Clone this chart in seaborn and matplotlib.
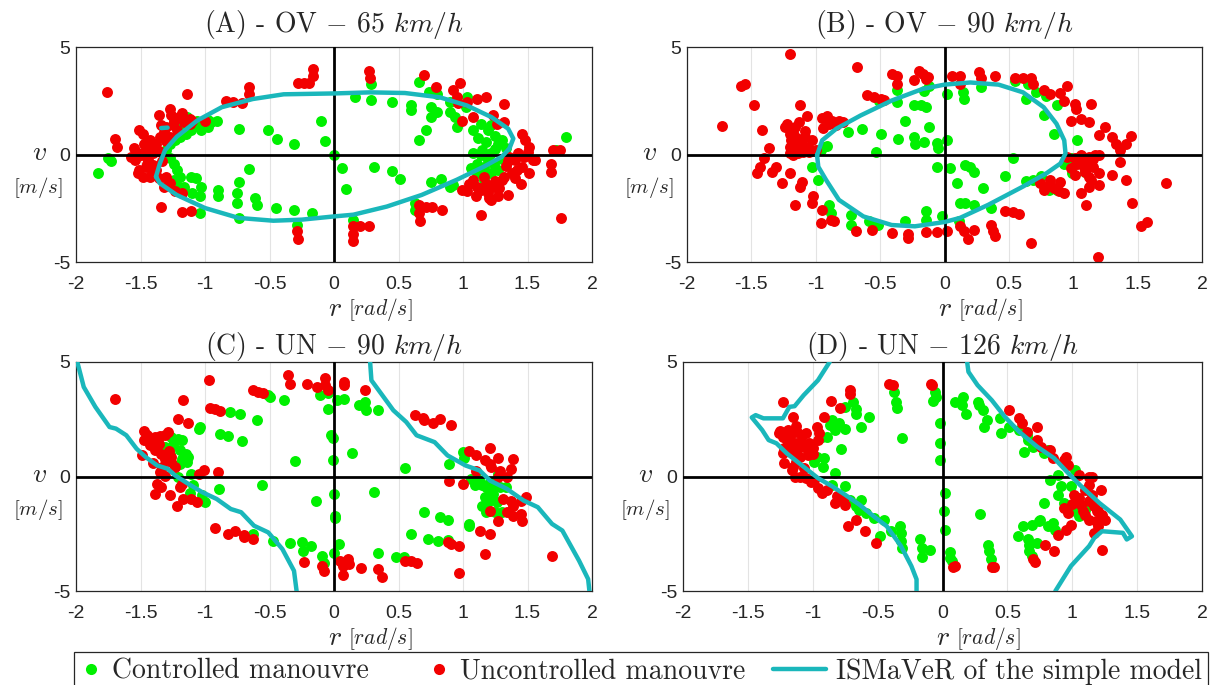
import pandas as pd
import matplotlib
matplotlib.use("Agg")
import matplotlib.pyplot as plt
from matplotlib.lines import Line2D
from matplotlib.legend_handler import HandlerLine2D
import seaborn as sns

# ------------------------------------------------------------------
# data: (r [rad/s], v [m/s])
# ------------------------------------------------------------------

# (A) OV 65 km/h
ov65_ctrl = [
    (-1.83, -0.88), (-1.75, -0.18), (-1.73, -0.29), (-1.30, 0.20), (-1.27, 0.51), (-1.23, 0.66),
    (-1.19, 0.82), (-1.15, 0.97), (-1.11, 1.12), (-1.07, 1.35), (-1.16, 1.43), (-1.14, 1.74),
    (-1.20, 1.51), (-1.06, 1.58), (-0.98, 1.62), (-0.95, 1.51), (-0.91, 1.54), (-0.98, 1.28),
    (-1.03, 1.12), (-1.27, -0.18), (-1.24, -0.42), (-1.22, -0.72), (-1.19, -1.03), (-1.24, -1.18),
    (-1.20, -1.49), (-1.16, -1.49), (-1.11, -1.03), (-1.07, -1.11), (-1.10, -1.80), (-1.03, -1.49),
    (-1.04, -1.95), (-1.04, -2.72), (-0.90, -1.65), (-0.90, -1.95), (-0.74, -1.26), (-0.75, -1.80),
    (-0.75, -2.26), (-0.74, -2.95), (-0.66, -0.69), (-0.61, -2.03), (-0.60, -2.34), (-0.45, -2.49),
    (-0.31, -2.57), (-0.29, -3.26), (-0.17, -2.72), (-0.74, 1.20), (-0.51, 1.12), (-0.44, 0.72),
    (-0.31, 0.51), (-0.10, 1.54), (-0.07, 0.63), (0.00, -0.03), (0.06, -0.62), (0.09, -1.60),
    (0.16, 2.66), (0.29, 2.54), (0.31, -0.57), (0.45, 2.43), (0.45, -0.77), (0.51, -1.12),
    (0.60, 2.28), (0.60, 2.05), (0.66, 0.69), (0.71, 1.15), (0.75, 2.20), (0.75, 1.74),
    (0.80, 1.97), (0.66, 3.35), (0.74, 2.89), (0.80, 2.82), (0.90, 2.46), (0.90, 1.97),
    (0.94, 1.74), (0.95, 1.28), (1.02, 2.20), (1.03, 2.66), (0.75, -1.26), (0.83, -1.15),
    (0.90, -1.49), (0.92, -1.42), (0.63, -2.26), (0.63, -2.57), (0.15, -3.03), (0.29, 3.28),
    (1.08, 0.05), (1.14, -0.03), (1.19, -0.26), (1.22, 0.05), (1.24, -0.42), (1.27, -0.72),
    (1.16, -0.57), (1.11, -0.42), (1.22, -0.88), (1.27, 0.51), (1.30, 0.66), (1.19, 1.12),
    (1.22, 1.35), (1.14, 1.43), (1.08, 1.12), (1.06, -0.65), (1.11, -0.88), (1.16, -1.18),
    (1.80, 0.82), (1.72, 0.20), (1.15, 0.20), (1.25, 0.25), (1.20, -0.05), (1.30, -0.20),
    (1.33, 0.30), (1.18, 0.60), (1.25, 0.85), (1.12, 0.75),
]
ov65_unctrl = [
    (-1.76, 2.89), (-1.70, 0.74), (-1.68, 0.35), (-1.55, 0.28), (-1.51, 1.12), (-1.52, -0.88),
    (-1.48, -1.03), (-1.36, 1.82), (-1.34, -2.42), (-1.32, -1.49), (-1.27, 2.12), (-1.26, 1.82),
    (-1.18, -2.69), (-1.11, -2.65), (-1.14, 2.82), (-1.10, 1.58), (-1.00, 1.58), (-0.84, 2.51),
    (-0.78, 2.43), (-0.71, 2.38), (-0.66, 3.12), (-0.66, 2.82), (-0.28, 3.31), (-0.23, 3.31),
    (-0.19, 3.31), (-0.16, 3.97), (-0.16, 3.66), (-0.29, -3.57), (-0.28, -3.92), (0.15, -3.34),
    (0.20, -3.34), (0.27, -3.34), (0.15, -3.72), (0.15, -4.03), (0.27, 3.89), (0.28, 3.58),
    (0.70, 3.69), (0.79, 3.15), (0.92, 3.00), (0.98, 3.31), (0.95, 2.69), (0.96, 2.38),
    (1.11, 2.58), (1.18, 2.66), (1.03, 2.43), (1.32, 2.35), (1.23, 1.82), (1.26, 1.43),
    (1.32, 1.51), (0.99, 1.58), (1.08, 1.74), (0.66, -2.34), (0.71, -2.42), (0.76, -2.42),
    (0.66, -2.72), (0.67, -3.11), (0.84, -2.57), (1.14, -2.80), (1.35, -1.88), (1.76, -2.95),
    (1.70, 0.20), (1.75, 0.20), (1.68, -0.42), (1.68, -0.80), (1.46, 0.97), (1.48, 0.66),
    (1.51, 0.35), (1.43, 0.05), (1.40, -0.26), (1.46, -0.57), (1.51, -0.88), (1.54, -0.26),
    (1.38, -0.88), (1.30, -1.18), (1.24, -1.49), (1.19, -1.80), (1.14, -1.65), (1.08, -1.18),
    (1.11, -1.49), (1.03, -1.72), (0.99, -1.65), (1.27, -1.95), (1.22, -2.11), (1.16, -1.03),
    (1.32, -1.03), (1.42, -0.72), (1.47, -0.11), (1.56, -0.26), (-1.50, -0.03), (-1.46, 0.20),
    (-1.44, -0.26), (-1.40, 0.05), (-1.43, 0.66), (-1.48, 0.97), (-1.38, 0.51), (-1.35, 0.82),
    (-1.32, 1.05), (-1.46, -0.57), (-1.40, -0.49), (-1.51, -0.72), (-1.54, -0.26), (-1.38, -0.72),
    (-1.43, -1.03), (-1.47, 0.51), (-1.34, 1.35), (-1.30, 1.28), (-1.24, 1.58), (-1.20, 1.74),
    (-1.16, 1.51), (-1.12, 1.43), (-1.22, 1.12), (-1.27, 0.82), (-1.30, -1.03), (-1.27, -1.34),
    (-1.23, -1.72), (-1.18, -1.80), (-1.42, 0.35), (-1.36, 0.15), (-1.45, -0.45), (-1.33, -0.30),
    (-1.41, -0.85), (-1.36, -1.10), (-1.30, 0.62), (-1.25, 1.35), (-1.18, 1.95), (-1.12, 1.65),
    (-1.52, 0.05), (-1.57, -0.10), (1.35, -0.30), (1.33, -0.55), (1.40, -1.10), (1.45, -1.35),
    (1.25, -1.25), (1.18, -1.35), (1.28, -1.55), (1.36, -0.10), (1.50, 0.10), (1.20, -2.00),
    (1.10, -1.95), (1.05, -1.35),
]
ov65_ismaver = [
    (-1.38, -1.03), (-1.35, -0.42), (-1.31, 0.20), (-1.22, 0.82), (-1.06, 1.58), (-0.87, 2.20),
    (-0.63, 2.58), (-0.39, 2.80), (0.00, 2.84), (0.28, 2.89), (0.55, 2.86), (0.82, 2.66),
    (1.03, 2.28), (1.22, 1.74), (1.35, 1.20), (1.39, 0.74), (1.36, 0.28), (1.30, -0.11),
    (1.16, -0.57), (0.95, -1.18), (0.68, -1.88), (0.41, -2.42), (0.15, -2.80), (0.00, -2.88),
    (-0.25, -3.03), (-0.47, -3.08), (-0.74, -2.95), (-1.00, -2.49), (-1.22, -1.88), (-1.35, -1.34),
    (-1.38, -1.03),
]
ov65_ismaver_stub = [(-1.34, 1.23), (-1.29, 1.25)]

# (B) OV 90 km/h
ov90_ctrl = [
    (-0.96, 0.20), (-0.94, 0.35), (-0.91, 0.38), (-1.03, -0.57), (-0.98, -1.18), (-0.90, -2.34),
    (-0.88, -2.72), (-0.73, -2.80), (-0.73, -3.26), (-0.59, -3.11), (-0.52, -3.26), (-0.31, -3.11),
    (-0.14, -2.65), (-0.14, -3.03), (-0.02, -2.88), (0.11, -3.11), (0.12, -2.26), (0.16, -2.26),
    (0.23, -2.34), (-0.06, -0.57), (0.04, -0.65), (0.10, -1.34), (0.16, -0.49), (0.20, -0.57),
    (0.23, -0.83), (0.30, -1.57), (0.36, -2.49), (0.47, -1.00), (0.53, -0.14), (0.63, -1.22),
    (0.69, -1.18), (0.75, -1.00), (0.81, -1.65), (0.87, -1.65), (0.93, -0.42), (0.99, -0.88),
    (1.09, -0.80), (0.98, -0.18), (1.03, 0.66), (0.85, 0.97), (0.77, 1.82), (0.79, 2.74),
    (0.87, 2.28), (0.63, 2.58), (0.65, 3.28), (0.71, 2.89), (0.55, 3.43), (0.28, 3.12),
    (0.15, 2.58), (0.14, 2.89), (0.02, 2.82), (-0.12, 3.20), (-0.16, 2.97), (-0.37, 3.00),
    (-0.31, 1.54), (-0.36, 0.71), (-0.24, 0.82), (-0.23, 0.51), (-0.16, 0.58), (-0.06, 0.54),
    (-0.05, 0.28), (0.02, 0.66), (-0.12, 1.28), (-0.18, 2.28), (-0.24, 2.28), (-0.14, 2.20),
    (-0.37, 2.43), (-0.49, 0.97), (-0.53, 0.12), (-0.64, 1.20), (-0.75, 1.05), (-0.51, 2.51),
]
ov90_unctrl = [
    (-1.20, 4.69), (-0.68, 4.08), (-1.58, 3.17), (-1.55, 3.28), (-1.48, 2.28), (-1.73, 1.31),
    (-1.42, 1.15), (-1.36, 0.32), (-1.40, -0.18), (-1.43, -0.57), (-1.46, -0.88), (-1.34, -0.80),
    (-1.31, -0.57), (-1.26, -1.34), (-1.20, -0.88), (-1.16, -2.34), (-1.12, -1.49), (-1.11, -1.26),
    (-1.03, -2.26), (-1.02, -1.95), (-0.96, -3.18), (-0.95, -2.57), (-0.88, -3.03), (-0.86, -3.11),
    (-1.12, 2.32), (-1.07, 1.77), (-1.22, 1.43), (-1.20, 0.97), (-1.19, 0.66), (-1.16, 0.35),
    (-1.14, 0.05), (-1.11, 0.51), (-1.08, 0.82), (-1.06, 0.35), (-1.03, 0.66), (-1.00, 0.20),
    (-1.13, 1.51), (-1.16, 1.28), (-1.20, 0.05), (-1.24, 1.28), (-1.18, -0.03), (-1.10, 0.12),
    (-0.95, 1.71), (-0.91, 1.77), (-0.87, 1.58), (-0.84, 1.35), (-0.90, 1.43), (-0.94, 1.25),
    (-0.82, 1.58), (-0.79, 1.51), (-0.60, 2.78), (-0.55, 2.69), (-0.49, 2.58), (-0.47, 2.54),
    (-0.41, 3.74), (-0.37, 3.66), (-0.37, 3.28), (-0.20, 3.89), (-0.17, 3.74), (-0.14, 3.51),
    (-0.24, 3.46), (-0.13, 3.62), (0.06, 3.66), (0.12, 3.66), (0.12, 3.28), (0.27, 3.82),
    (0.28, 3.58), (0.39, 3.66), (0.55, 3.55), (0.61, 3.55), (0.67, 3.58), (0.69, 3.28),
    (0.77, 3.00), (0.82, 2.82), (0.90, 2.85), (0.95, 3.20), (0.93, 2.51), (1.01, 2.35),
    (1.02, 2.12), (0.98, 1.58), (1.06, 1.66), (1.12, 1.51), (1.14, 2.35), (1.20, 0.89),
    (1.25, 1.28), (1.30, 0.82), (1.33, 0.51), (1.36, 0.20), (1.41, 0.51), (1.45, 0.85),
    (1.36, -0.34), (0.95, -0.11), (1.01, -0.18), (1.06, -0.03), (1.12, -0.11), (1.17, -0.03),
    (1.20, -0.03), (1.09, -0.42), (1.03, -0.42), (0.98, -0.65), (1.01, -0.95), (1.09, -0.80),
    (1.12, -1.03), (1.14, -1.18), (1.20, -0.88), (1.20, -1.42), (1.12, -1.49), (1.06, -1.80),
    (1.10, -2.34), (1.30, -0.95), (1.41, -1.18), (1.46, -2.26), (1.53, -3.34), (1.57, -3.15),
    (1.72, -1.34), (1.19, -4.75), (0.67, -4.11), (0.74, -1.34), (0.79, -1.49), (0.85, -1.57),
    (0.89, -1.72), (0.93, -1.80), (0.77, -1.65), (0.82, -1.18), (0.90, -1.26), (0.47, -2.65),
    (0.53, -2.69), (0.58, -2.75), (0.36, -3.26), (0.38, -3.57), (0.39, -3.77), (0.23, -3.49),
    (0.18, -3.95), (0.15, -3.57), (0.12, -3.34), (0.02, -3.57), (-0.06, -3.62), (-0.14, -3.62),
    (-0.28, -3.72), (-0.28, -3.88), (-0.41, -3.65), (-0.56, -3.52), (-0.69, -3.54),
    (-1.15, 0.15), (-1.10, 0.30), (-1.05, 0.10), (-1.13, 0.70), (-1.20, 0.35), (-1.17, 0.90),
    (-1.08, 1.10), (1.05, -0.10), (1.15, -0.20), (1.02, -0.25), (1.08, -0.60), (1.15, -0.60),
]
ov90_ismaver = [
    (-0.99, -0.03), (-0.95, 0.66), (-0.84, 1.20), (-0.65, 1.82), (-0.41, 2.51), (-0.17, 3.05),
    (0.00, 3.25), (0.20, 3.35), (0.42, 3.25), (0.61, 2.89), (0.77, 2.20), (0.87, 1.43),
    (0.93, 0.66), (0.94, 0.05), (0.90, -0.42), (0.79, -0.88), (0.61, -1.49), (0.34, -2.34),
    (0.12, -2.95), (0.00, -3.14), (-0.23, -3.34), (-0.41, -3.28), (-0.63, -2.88), (-0.82, -2.11),
    (-0.92, -1.18), (-0.98, -0.57), (-0.99, -0.03),
]

# (C) UN 90 km/h
un90_ctrl = [
    (-0.81, 2.82), (-0.73, 2.72), (-0.60, 2.48), (-1.04, 2.16), (-1.05, 2.09), (-0.88, 1.84),
    (-0.82, 1.75), (-0.71, 1.55), (-0.39, 3.36), (-0.51, 3.55), (-0.50, 3.47), (-0.11, 3.55),
    (-0.05, 3.65), (-0.05, 2.93), (0.02, 3.36), (0.08, 3.40), (0.19, 3.11), (0.24, 3.26),
    (0.25, 2.89), (0.34, 2.92), (-0.02, 1.80), (-0.01, 1.69), (-0.01, 0.73), (0.14, 1.04),
    (-0.30, 0.66), (-0.56, -0.36), (-0.89, -0.54), (-1.12, -0.73), (-1.02, -0.80), (-1.00, -1.12),
    (-0.14, -1.08), (0.00, -0.76), (0.01, -1.71), (0.01, -1.81), (0.31, -0.66), (0.55, 0.36),
    (0.70, -1.56), (0.82, -1.78), (0.88, -1.90), (1.05, -2.07), (1.05, -2.15), (0.60, -2.51),
    (0.73, -2.73), (0.81, -2.83), (0.88, -2.77), (-0.63, -2.51), (-0.47, -2.80), (-0.34, -2.91),
    (-0.25, -2.88), (-0.24, -3.24), (-0.18, -3.02), (-0.09, -3.46), (-0.08, -3.78), (0.04, -2.95),
    (0.00, -3.36), (0.34, -3.36), (0.48, -3.50), (0.54, -3.53), (1.00, 1.09), (1.01, 0.80),
    (0.89, 0.53), (-1.26, 1.72), (-1.21, 1.65), (-1.18, 1.58), (-1.25, 1.36), (-1.19, 1.14),
    (-1.15, 0.99), (-1.18, 0.77), (-1.14, 0.63), (-1.19, 0.55), (-1.23, 0.48), (-1.13, 0.85),
    (-1.21, -0.03), (-1.11, 0.12), (-1.09, -0.39), (-1.31, 1.28), (-1.27, 0.99), (-1.33, 1.07),
    (1.10, -0.03), (1.13, -0.25), (1.15, -0.39), (1.18, -0.47), (1.21, -0.61), (1.23, -0.76),
    (1.25, -0.32), (1.29, -0.47), (1.17, -0.91), (1.19, -1.12), (1.22, -0.98), (1.26, -1.12),
    (1.15, -1.27), (1.18, -1.56), (1.25, -1.56), (1.30, -1.56), (1.21, -0.25), (1.27, 0.12),
    (1.33, -0.47), (1.09, -0.39), (1.06, -0.10),
]
un90_unctrl = [
    (-1.70, 3.40), (-1.17, 3.36), (-0.97, 4.20), (-1.21, 2.51), (-1.13, 2.34), (-0.96, 3.01),
    (-0.92, 2.93), (-0.88, 2.86), (-0.63, 3.77), (-0.59, 3.69), (-0.55, 3.65), (-0.36, 4.42),
    (-0.34, 4.06), (-0.21, 4.03), (-0.13, 3.91), (-0.07, 4.28), (-0.07, 3.99), (-0.05, 3.77),
    (0.08, 4.13), (0.08, 3.99), (0.24, 3.77), (-1.47, 1.97), (-1.45, 1.80), (-1.39, 1.72),
    (-1.35, 1.75), (-1.31, 1.80), (-1.29, 1.94), (-1.47, 1.58), (-1.43, 1.36), (-1.39, 1.14),
    (-1.49, 0.92), (-1.34, 0.99), (-1.31, 0.77), (-1.29, 0.77), (-1.26, 0.63), (-1.35, 0.19),
    (-1.31, 0.04), (-1.37, -0.32), (-1.34, -0.47), (-1.39, -0.76), (-1.27, -0.80), (-1.22, -1.27),
    (-1.19, -0.47), (-1.18, -0.32), (-1.17, -0.98), (-1.11, -0.98), (-1.06, -1.12), (-1.01, 0.29),
    (-1.05, 0.12), (-0.90, 0.19), (-1.23, 0.41), (-1.26, 0.85), (-0.92, -2.26), (-0.82, -2.51),
    (-0.77, -2.39), (-0.70, -2.54), (-0.70, -2.66), (-0.63, -2.73), (-0.23, -3.75), (-0.09, -3.90),
    (-0.08, -4.12), (0.05, -3.68), (0.07, -3.90), (0.07, -4.31), (0.11, -3.61), (0.12, -3.82),
    (0.21, -4.01), (0.34, -4.04), (0.37, -4.41), (0.55, -3.68), (0.60, -3.71), (0.64, -3.78),
    (0.97, -4.22), (0.63, 2.67), (0.69, 2.57), (0.70, 2.45), (0.77, 2.34), (0.82, 2.53),
    (0.91, 2.26), (1.05, 1.11), (1.10, 0.92), (1.21, 1.26), (1.17, 0.70), (1.21, 0.55),
    (1.22, 0.41), (1.27, 0.82), (1.29, 0.26), (1.39, 0.77), (1.37, 0.34), (1.34, -0.03),
    (1.27, -0.03), (0.89, -0.18), (1.00, -0.32), (1.10, 0.26), (1.31, -0.98), (1.37, -1.05),
    (1.39, -1.27), (1.45, -1.05), (1.49, -0.91), (1.34, -1.56), (1.39, -1.71), (1.45, -1.64),
    (1.46, -1.93), (1.27, -1.93), (1.21, -1.49), (1.13, -2.36), (1.21, -2.51), (1.17, -3.39),
    (1.69, -3.46), (0.88, -2.88), (0.91, -2.95), (0.97, -3.02), (-1.42, 1.55), (-1.36, 1.40),
    (-1.40, 0.60), (-1.33, 0.40), (-1.28, 1.10),
]
un90_ismaver_left = [
    (-1.99, 5.00), (-1.96, 4.35), (-1.94, 3.91), (-1.85, 3.04), (-1.74, 2.16), (-1.69, 2.09),
    (-1.61, 1.80), (-1.53, 1.21), (-1.46, 0.85), (-1.37, 0.48), (-1.29, 0.34), (-1.23, 0.04),
    (-1.13, -0.32), (-1.02, -0.69), (-0.91, -0.98), (-0.80, -1.42), (-0.72, -1.56), (-0.62, -2.15),
    (-0.51, -2.44), (-0.40, -3.17), (-0.31, -4.12), (-0.29, -5.00),
]
un90_ismaver_right = [
    (0.28, 5.00), (0.29, 4.20), (0.46, 2.89), (0.56, 2.38), (0.64, 1.80), (0.78, 1.50),
    (0.88, 0.92), (1.02, 0.48), (1.13, 0.26), (1.21, -0.18), (1.34, -0.54), (1.47, -1.05),
    (1.58, -1.34), (1.69, -2.07), (1.77, -2.36), (1.90, -3.68), (1.97, -4.48), (1.98, -5.00),
]

# (D) UN 126 km/h
un126_ctrl = [
    (0.16, 3.48), (0.15, 3.12), (0.10, 3.26), (0.18, 2.75), (0.27, 3.26), (0.28, 3.12),
    (0.31, 2.90), (0.34, 2.46), (0.32, 2.17), (0.44, 2.54), (0.45, 1.88), (0.51, 2.14),
    (0.59, 2.03), (0.65, 1.81), (0.66, 1.59), (0.63, 1.09), (0.70, 1.30), (0.78, 1.01),
    (0.81, 1.16), (0.83, -0.14), (0.89, 0.07), (0.91, -0.43), (0.89, -0.80), (0.99, -0.43),
    (1.02, 0.29), (0.94, -1.16), (1.02, -1.52), (1.05, -1.74), (1.10, -1.45), (0.78, -1.16),
    (0.75, -1.88), (0.81, -2.17), (0.85, -2.03), (0.87, -2.32), (0.69, -2.10), (0.74, -1.96),
    (0.62, -2.17), (0.58, -2.61), (0.66, -2.75), (0.67, -2.97), (0.67, -3.26), (0.73, -2.90),
    (0.69, -3.48), (0.35, -3.01), (0.36, -3.26), (0.37, -3.62), (0.29, -1.64), (0.02, -0.72),
    (0.01, -1.52), (0.02, -2.35), (0.06, -3.30), (0.06, -3.55), (0.07, -3.70), (-0.02, 2.35),
    (-0.02, 1.48), (-0.02, 0.72), (-0.06, 3.70), (-0.05, 3.48), (-0.07, 3.30), (-0.37, 3.70),
    (-0.36, 3.26), (-0.35, 3.01), (-0.31, 1.67), (-0.57, 2.61), (-0.63, 2.17), (-0.67, 2.93),
    (-0.69, 3.26), (-0.67, 2.75), (-0.75, 3.04), (-0.80, 2.32), (-0.83, 2.03), (-0.75, 2.06),
    (-0.85, 2.46), (-0.89, 1.74), (-0.87, 2.25), (-0.99, 0.65), (-0.97, 0.87), (-0.92, 0.43),
    (-0.91, 0.80), (-0.83, 0.14), (-0.78, 1.19), (-0.93, 1.74), (-0.71, -1.04), (-0.67, -1.30),
    (-0.63, -1.04), (-0.59, -1.59), (-0.53, -1.81), (-0.45, -1.88), (-0.40, -2.39), (-0.33, -2.17),
    (-0.32, -2.46), (-0.32, -2.83), (-0.31, -3.12), (-0.17, -2.75), (-0.16, -3.12), (-0.10, -3.22),
    (-0.16, -3.52), (-0.48, -2.61), (-0.75, -0.43), (-0.85, -0.36), (-0.64, -1.45),
]
un126_unctrl = [
    (-1.23, 3.26), (-1.15, 2.58), (-0.91, 2.58), (-0.86, 3.30), (-0.79, 3.01), (-0.71, 3.77),
    (-0.71, 3.59), (-0.41, 4.03), (-0.38, 3.99), (-0.09, 4.03), (-0.08, 3.99), (-1.26, 1.88),
    (-1.23, 1.74), (-1.19, 2.03), (-1.16, 1.88), (-1.12, 1.96), (-1.08, 1.81), (-1.05, 1.88),
    (-1.20, 1.59), (-1.18, 1.38), (-1.14, 1.45), (-1.11, 1.23), (-1.07, 1.30), (-1.03, 1.45),
    (-1.00, 1.23), (-0.96, 1.59), (-0.95, 1.88), (-0.97, 2.17), (-1.23, 1.01), (-1.16, 1.01),
    (-1.10, 0.87), (-1.04, 0.94), (-1.22, 0.58), (-1.15, 0.43), (-1.14, 0.00), (-1.16, 0.29),
    (-1.10, 0.00), (-1.01, -0.22), (-0.99, -0.14), (-0.96, -0.51), (-0.93, -0.72), (-0.89, -0.58),
    (-0.83, -1.16), (-0.77, -1.01), (-0.75, -1.23), (-0.73, -2.17), (-0.67, -1.88), (-0.60, -2.39),
    (-0.51, -2.90), (-0.81, -0.87), (0.51, 2.90), (0.59, 2.54), (0.61, 2.32), (0.65, 1.96),
    (0.73, 2.17), (0.73, 1.59), (0.76, 1.30), (0.83, 1.16), (0.85, 0.80), (0.94, 0.72),
    (0.95, 0.87), (0.97, 0.51), (1.05, 0.07), (1.13, 0.00), (1.15, 0.00), (1.13, -0.36),
    (1.22, -0.58), (1.01, -0.80), (1.05, -0.94), (1.07, -1.23), (1.13, -1.09), (1.17, -1.30),
    (1.19, -1.52), (1.23, -1.67), (1.25, -1.88), (1.13, -1.88), (1.18, -1.96), (0.97, -1.59),
    (0.94, -1.38), (0.99, -2.10), (0.95, -2.32), (0.89, -2.54), (1.17, -2.46), (1.23, -3.23),
    (0.79, -2.97), (0.86, -3.26), (0.71, -3.74), (0.70, -3.62), (0.08, -3.94), (0.10, -3.91),
    (0.38, -3.96), (0.40, -3.96), (-1.22, 1.25), (-1.18, 1.70), (-1.09, 1.55), (-1.13, 0.65),
    (-1.07, 0.35), (-1.05, -0.05), (-1.13, 2.20), (-1.25, 2.00), (-1.00, 1.00), (1.08, -1.50),
    (1.10, -1.70), (1.20, -1.50), (1.15, -0.80), (1.10, -0.60), (1.20, -2.15), (1.00, -1.20),
]
un126_ismaver_left = [
    (-0.87, 5.00), (-0.96, 4.20), (-1.07, 3.55), (-1.14, 3.07), (-1.18, 3.04), (-1.23, 2.54),
    (-1.38, 2.54), (-1.44, 2.68), (-1.47, 2.58), (-1.39, 2.03), (-1.34, 1.59), (-1.28, 1.45),
    (-1.20, 1.01), (-1.12, 0.65), (-1.04, 0.29), (-0.96, -0.07), (-0.85, -0.43), (-0.75, -0.80),
    (-0.64, -1.23), (-0.53, -1.74), (-0.43, -2.17), (-0.32, -3.04), (-0.24, -3.91), (-0.20, -4.49),
    (-0.20, -5.00),
]
un126_ismaver_right = [
    (0.19, 5.00), (0.20, 4.57), (0.27, 3.99), (0.38, 3.33), (0.48, 2.61), (0.59, 1.96),
    (0.73, 1.30), (0.86, 0.80), (0.97, 0.14), (1.07, -0.43), (1.21, -1.16), (1.29, -1.52),
    (1.37, -1.88), (1.46, -2.61), (1.42, -2.75), (1.39, -2.46), (1.23, -2.39), (1.17, -2.68),
    (1.13, -3.04), (0.99, -3.91), (0.87, -5.00),
]

titles = ["(A) - OV $-$ 65 $km/h$", "(B) - OV $-$ 90 $km/h$",
          "(C) - UN $-$ 90 $km/h$", "(D) - UN $-$ 126 $km/h$"]
legend_labels = ["Controlled manouvre", "Uncontrolled manouvre", "ISMaVeR of the simple model"]
x_ticks = [-2, -1.5, -1, -0.5, 0, 0.5, 1, 1.5, 2]
x_ticklabels = ["-2", "-1.5", "-1", "-0.5", "0", "0.5", "1", "1.5", "2"]
y_ticks = [-5, 0, 5]
y_ticklabels = ["-5", "0", "5"]

GREEN = "#00f000"
RED = "#f20000"
CYAN = "#1ab7bb"
SERIF = "cmr10"

sns.set_style("white")
plt.rcParams["font.family"] = ["Liberation Sans", "DejaVu Sans"]
plt.rcParams["mathtext.fontset"] = "cm"
plt.rcParams["axes.unicode_minus"] = False

fig = plt.figure(figsize=(12.15, 6.85), dpi=100)
W, H = 1215.0, 685.0


def box(left, right, top, bottom):
    return [left / W, 1 - bottom / H, (right - left) / W, (bottom - top) / H]


class WideLine(HandlerLine2D):
    """legend line that reaches further left than the marker handles"""
    def create_artists(self, legend, orig_handle, xdescent, ydescent, width, height,
                       fontsize, trans):
        extra = 1.4 * width
        return super().create_artists(legend, orig_handle, xdescent + extra, ydescent,
                                      width + extra, height, fontsize, trans)


panels = [
    (box(76, 592, 47, 262), ov65_ctrl, ov65_unctrl, [ov65_ismaver, ov65_ismaver_stub], 11),
    (box(687, 1202, 47, 262), ov90_ctrl, ov90_unctrl, [ov90_ismaver], 11),
    (box(76, 592, 362, 591), un90_ctrl, un90_unctrl, [un90_ismaver_left, un90_ismaver_right], 6),
    (box(683, 1202, 362, 591), un126_ctrl, un126_unctrl, [un126_ismaver_left, un126_ismaver_right], 6),
]

for (pos, ctrl, unctrl, curves, tpad), title in zip(panels, titles):
    ax = fig.add_axes(pos)
    df_c = pd.DataFrame(ctrl, columns=["r", "v"])
    df_u = pd.DataFrame(unctrl, columns=["r", "v"])
    sns.scatterplot(data=df_c, x="r", y="v", color=GREEN, s=62, linewidth=0, ax=ax, zorder=2)
    sns.scatterplot(data=df_u, x="r", y="v", color=RED, s=62, linewidth=0, ax=ax, zorder=2)
    ax.axhline(0, color="black", lw=2.0, zorder=3)
    ax.axvline(0, color="black", lw=2.0, zorder=3)
    for seg in curves:
        d = pd.DataFrame(seg, columns=["r", "v"])
        sns.lineplot(data=d, x="r", y="v", sort=False, estimator=None, color=CYAN,
                     lw=3.2, ax=ax, zorder=4)

    ax.set_xlim(-2, 2)
    ax.set_ylim(-5, 5)
    ax.set_xticks(x_ticks)
    ax.set_xticklabels(x_ticklabels)
    ax.set_yticks(y_ticks)
    ax.set_yticklabels(y_ticklabels)
    ax.tick_params(direction="in", length=4, width=0.8, labelsize=14, pad=4, colors="#262626")
    ax.tick_params(axis="x", pad=10)
    ax.grid(axis="x", color="#e3e3e3", lw=0.8, zorder=0)
    ax.set_axisbelow(True)
    for sp in ax.spines.values():
        sp.set_color("#262626")
        sp.set_linewidth(0.9)
    ax.set_xlabel("")
    ax.set_ylabel("")

    ax.set_title(title, fontfamily=SERIF, fontsize=20, pad=tpad)
    # y label: v over [m/s]
    ax.annotate("$v$", xy=(0, 0.5), xycoords="axes fraction", xytext=(-37, 2),
                textcoords="offset pixels", ha="center", va="center", fontsize=20)
    ax.annotate("$[m/s]$", xy=(0, 0.5), xycoords="axes fraction", xytext=(-38, -33),
                textcoords="offset pixels", ha="center", va="center", fontsize=15)
    # x label: r [rad/s]
    ax.annotate("$r$", xy=(0.5, 0), xycoords="axes fraction", xytext=(1, -47),
                textcoords="offset pixels", ha="center", va="center", fontsize=20)
    ax.annotate("$[rad/s]$", xy=(0.5, 0), xycoords="axes fraction", xytext=(14, -47),
                textcoords="offset pixels", ha="left", va="center", fontsize=15.5)

handles = [
    Line2D([], [], ls="none", marker="o", markersize=8, markerfacecolor=GREEN, markeredgewidth=0),
    Line2D([], [], ls="none", marker="o", markersize=8, markerfacecolor=RED, markeredgewidth=0),
    Line2D([], [], color=CYAN, lw=3.2),
]
leg = fig.legend(handles, legend_labels, loc="upper left", ncol=3, mode="expand",
                 bbox_to_anchor=(74 / W, 0, (1208 - 74) / W, 1 - 652 / H),
                 borderaxespad=0, frameon=True, fancybox=False, framealpha=1,
                 edgecolor="#262626", handlelength=0.8, handletextpad=0.35,
                 borderpad=0.22, columnspacing=1.5,
                 handler_map={handles[2]: WideLine()},
                 prop={"family": SERIF, "size": 20})
leg.get_frame().set_linewidth(0.9)

fig.savefig("out.png", dpi=100, facecolor="white")
